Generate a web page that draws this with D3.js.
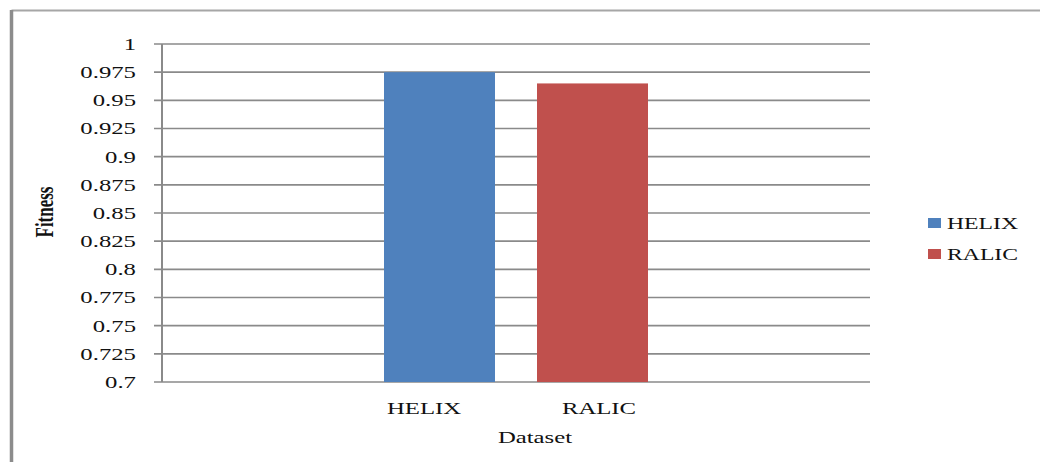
<!DOCTYPE html>
<html>
<head>
<meta charset="utf-8">
<script src="https://cdn.jsdelivr.net/npm/d3@7"></script>
<style>
  html, body { margin: 0; padding: 0; background: #fff; }
  svg { display: block; }
</style>
</head>
<body>
<svg id="chart" width="1040" height="462"></svg>
<script>
// ---- data ----
const categories = ["HELIX", "RALIC"];
const seriesNames = ["HELIX", "RALIC"];
const fitnessValues = [0.975, 0.965];
const seriesColors = ["#4F81BD", "#C0504D"];
const yTicks = [0.7, 0.725, 0.75, 0.775, 0.8, 0.825, 0.85, 0.875, 0.9, 0.925, 0.95, 0.975, 1];
const yTickLabels = ["0.7", "0.725", "0.75", "0.775", "0.8", "0.825", "0.85", "0.875", "0.9", "0.925", "0.95", "0.975", "1"];
const xTitle = "Dataset";
const yTitle = "Fitness";

// ---- layout ----
const W = 1040, H = 462;
const plot = { left: 162, right: 870, top: 44, bottom: 382 };
const SX = 1.5; // horizontal stretch of the original image
const FONT = "'Liberation Serif', 'Times New Roman', Tinos, 'DejaVu Serif', serif";

const svg = d3.select("#chart")
  .attr("font-family", FONT)
  .style("font-family", FONT);

// outer frame (top and left)
svg.append("line").attr("x1", 11.5).attr("x2", W).attr("y1", 10.5).attr("y2", 10.5)
  .attr("stroke", "#a6a6a6").attr("stroke-width", 2);
svg.append("line").attr("x1", 11.5).attr("x2", 11.5).attr("y1", 10).attr("y2", H)
  .attr("stroke", "#8c8c8c").attr("stroke-width", 3.5);

const y = d3.scaleLinear().domain([0.7, 1]).range([plot.bottom, plot.top]);
const x = d3.scaleBand().domain(categories).range([plot.left, plot.right])
  .paddingInner(0.2745).paddingOuter(1.451);
const xLabel = d3.scalePoint().domain(categories).range([plot.left, plot.right])
  .padding(1.523).align(0.4916);

// gridlines
svg.append("g").selectAll("line").data(yTicks).join("line")
  .attr("x1", plot.left - 8).attr("x2", plot.right)
  .attr("y1", d => y(d)).attr("y2", d => y(d))
  .attr("stroke", "#8a8a8a").attr("stroke-width", 1.6);

// y axis line
svg.append("line").attr("x1", plot.left).attr("x2", plot.left)
  .attr("y1", plot.top).attr("y2", plot.bottom)
  .attr("stroke", "#8a8a8a").attr("stroke-width", 2);

function txt(sel) {
  return sel.attr("font-family", FONT).style("font-family", FONT).attr("fill", "#111");
}

// y tick labels
txt(svg.append("g").selectAll("text").data(yTicks).join("text"))
  .attr("transform", d => `translate(136,${y(d)}) scale(${SX},1)`)
  .attr("dy", "0.36em")
  .attr("text-anchor", "end")
  .style("font-size", "16.5px")
  .text((d, i) => yTickLabels[i]);

// bars
svg.append("g").selectAll("rect").data(categories).join("rect")
  .attr("x", d => x(d))
  .attr("width", x.bandwidth())
  .attr("y", (d, i) => y(fitnessValues[i]))
  .attr("height", (d, i) => y(0.7) - y(fitnessValues[i]))
  .attr("fill", (d, i) => seriesColors[i]);

// x category labels
txt(svg.append("g").selectAll("text").data(categories).join("text"))
  .attr("transform", d => `translate(${xLabel(d)},414) scale(${SX},1)`)
  .attr("text-anchor", "middle")
  .style("font-size", "16.5px")
  .text(d => d);

// x title
txt(svg.append("text"))
  .attr("transform", `translate(535,443) scale(${SX},1)`)
  .attr("text-anchor", "middle")
  .style("font-size", "16.5px")
  .text(xTitle);

// y title
txt(svg.append("text"))
  .attr("transform", `translate(44,212) scale(${SX},1) rotate(-90)`)
  .attr("text-anchor", "middle")
  .attr("dy", "0.35em")
  .style("font-size", "17px")
  .style("font-weight", "bold")
  .text(yTitle);

// legend
const legend = svg.append("g").selectAll("g").data(seriesNames).join("g")
  .attr("transform", (d, i) => `translate(928,${218 + i * 31})`);
legend.append("rect").attr("width", 13).attr("height", 10)
  .attr("fill", (d, i) => seriesColors[i]);
txt(legend.append("text"))
  .attr("transform", `translate(19,11) scale(${SX},1)`)
  .style("font-size", "15.8px")
  .text(d => d);
</script>
</body>
</html>
